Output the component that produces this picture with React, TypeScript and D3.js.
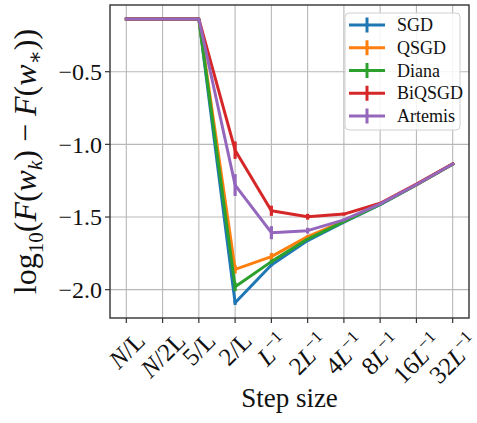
import React, { useEffect, useRef } from "react";
import * as d3 from "d3";

const categories = ["N/L", "N/2L", "5/L", "2/L", "L^{-1}", "2L^{-1}", "4L^{-1}", "8L^{-1}", "16L^{-1}", "32L^{-1}"];
const seriesNames = ["SGD", "QSGD", "Diana", "BiQSGD", "Artemis"];
const seriesColors = ["#1f77b4", "#ff7f0e", "#2ca02c", "#d62728", "#9467bd"];

const sgd = [-0.137, -0.137, -0.137, -2.09, -1.83, -1.662, -1.535, -1.415, -1.28, -1.137];
const qsgd = [-0.137, -0.137, -0.137, -1.86, -1.773, -1.635, -1.528, -1.41, -1.277, -1.135];
const diana = [-0.137, -0.137, -0.137, -1.98, -1.807, -1.652, -1.532, -1.413, -1.278, -1.136];
const biqsgd = [-0.137, -0.137, -0.137, -1.04, -1.457, -1.498, -1.48, -1.405, -1.274, -1.133];
const artemis = [-0.137, -0.137, -0.137, -1.28, -1.608, -1.594, -1.52, -1.41, -1.276, -1.135];

const sgdErr = [0, 0, 0, 0.015, 0.01, 0.005, 0.004, 0.003, 0.003, 0.003];
const qsgdErr = [0, 0, 0, 0.03, 0.025, 0.01, 0.005, 0.004, 0.003, 0.003];
const dianaErr = [0, 0, 0, 0.03, 0.012, 0.006, 0.004, 0.003, 0.003, 0.003];
const biqsgdErr = [0, 0, 0, 0.06, 0.035, 0.02, 0.01, 0.005, 0.004, 0.004];
const artemisErr = [0, 0, 0, 0.075, 0.045, 0.02, 0.01, 0.005, 0.004, 0.004];

const yTicks = [-2.0, -1.5, -1.0, -0.5];

const seriesValues = [sgd, qsgd, diana, biqsgd, artemis];
const seriesErrors = [sgdErr, qsgdErr, dianaErr, biqsgdErr, artemisErr];

const W = 477;
const H = 423;
const FONT = "'Liberation Serif', 'DejaVu Serif', serif";

export default function App() {
  const ref = useRef<SVGSVGElement>(null);

  useEffect(() => {
    const svg = d3.select(ref.current);
    svg.selectAll("*").remove();

    const left = 110, right = 469, top = 5, bottom = 318;
    const x = d3.scalePoint<string>().domain(categories).range([left, right]).padding(0.45);
    const y = d3.scaleLinear().domain([-2.195, -0.041]).range([bottom, top]);

    svg.append("rect").attr("width", W).attr("height", H).attr("fill", "white");

    // grid
    const grid = svg.append("g");
    categories.forEach((c) => {
      grid.append("line").attr("x1", x(c)!).attr("x2", x(c)!).attr("y1", top).attr("y2", bottom)
        .attr("stroke", "#b8b8b8").attr("stroke-width", 1.1);
    });
    yTicks.forEach((t) => {
      grid.append("line").attr("x1", left).attr("x2", right).attr("y1", y(t)).attr("y2", y(t))
        .attr("stroke", "#b8b8b8").attr("stroke-width", 1.1);
    });

    // series
    const line = d3.line<number>().x((_, i) => x(categories[i])!).y((d) => y(d));
    seriesValues.forEach((vals, si) => {
      const g = svg.append("g");
      g.append("path").attr("d", line(vals)!).attr("fill", "none")
        .attr("stroke", seriesColors[si]).attr("stroke-width", 3)
        .attr("stroke-linejoin", "round").attr("stroke-linecap", "square");
      vals.forEach((v, i) => {
        const e = seriesErrors[si][i];
        g.append("line").attr("x1", x(categories[i])!).attr("x2", x(categories[i])!)
          .attr("y1", y(v - e)).attr("y2", y(v + e))
          .attr("stroke", seriesColors[si]).attr("stroke-width", 3.2);
      });
    });

    // spines
    svg.append("rect").attr("x", left).attr("y", top).attr("width", right - left).attr("height", bottom - top)
      .attr("fill", "none").attr("stroke", "#333").attr("stroke-width", 1.4);

    // x ticks
    const xt = svg.append("g");
    categories.forEach((c) => {
      const px = x(c)!;
      xt.append("line").attr("x1", px).attr("x2", px).attr("y1", bottom).attr("y2", bottom + 5)
        .attr("stroke", "#333").attr("stroke-width", 1.2);
      const t = xt.append("text").attr("font-family", FONT).attr("font-size", 25).attr("fill", "#111");
      if (c.endsWith("L^{-1}")) {
        const pre = c.slice(0, c.length - 6);
        if (pre) t.append("tspan").text(pre);
        t.append("tspan").attr("font-style", "italic").text("L");
        t.append("tspan").attr("font-size", 17).attr("dy", -10).text("\u22121");
      } else if (c.startsWith("N")) {
        t.append("tspan").attr("font-style", "italic").text("N");
        t.append("tspan").text(c.slice(1));
      } else {
        t.text(c);
      }
      const bb = (t.node() as SVGTextElement).getBBox();
      const cx = bb.x + bb.width / 2;
      const cy = bb.y + bb.height / 2;
      const rh = (bb.width + bb.height) * Math.SQRT1_2;
      t.attr("transform", `translate(${px},${bottom + 9 + rh / 2}) rotate(-45) translate(${-cx},${-cy})`);
    });

    // y ticks
    yTicks.forEach((tv) => {
      const py = y(tv);
      svg.append("line").attr("x1", left - 5).attr("x2", left).attr("y1", py).attr("y2", py)
        .attr("stroke", "#333").attr("stroke-width", 1.2);
      svg.append("text").attr("x", left - 8).attr("y", py).attr("dy", "0.35em")
        .attr("text-anchor", "end").attr("font-family", FONT).attr("font-size", 24).attr("fill", "#111")
        .text(("\u2212" + Math.abs(tv).toFixed(1)));
    });

    // y label
    const yl = svg.append("text").attr("transform", `translate(36,${(top + bottom) / 2}) rotate(-90)`)
      .attr("text-anchor", "middle").attr("font-family", FONT).attr("font-size", 32).attr("fill", "#111");
    yl.append("tspan").text("log");
    yl.append("tspan").attr("font-size", 21).attr("dy", 7).text("10");
    yl.append("tspan").attr("dy", -7).text("(");
    yl.append("tspan").attr("font-style", "italic").text("F");
    yl.append("tspan").text("(");
    yl.append("tspan").attr("font-style", "italic").text("w");
    yl.append("tspan").attr("font-style", "italic").attr("font-size", 21).attr("dy", 6).text("k");
    yl.append("tspan").attr("dy", -6).text(") \u2212 ");
    yl.append("tspan").attr("font-style", "italic").text("F");
    yl.append("tspan").text("(");
    yl.append("tspan").attr("font-style", "italic").text("w");
    yl.append("tspan").attr("font-size", 21).attr("dy", 6).text("\u2217");
    yl.append("tspan").attr("dy", -6).text("))");

    // x label
    svg.append("text").attr("x", (left + right) / 2).attr("y", 407).attr("text-anchor", "middle")
      .attr("font-family", FONT).attr("font-size", 27).attr("fill", "#111").text("Step size");

    // legend
    const lg = svg.append("g");
    lg.append("rect").attr("x", 345).attr("y", 13).attr("width", 115).attr("height", 117).attr("rx", 4)
      .attr("fill", "white").attr("fill-opacity", 0.85).attr("stroke", "#d0d0d0").attr("stroke-width", 1);
    seriesNames.forEach((n, i) => {
      const cy = 25 + i * 22.75;
      lg.append("line").attr("x1", 349).attr("x2", 385).attr("y1", cy).attr("y2", cy)
        .attr("stroke", seriesColors[i]).attr("stroke-width", 3);
      lg.append("line").attr("x1", 367).attr("x2", 367).attr("y1", cy - 7.5).attr("y2", cy + 7.5)
        .attr("stroke", seriesColors[i]).attr("stroke-width", 3);
      lg.append("text").attr("x", 397).attr("y", cy + 6).attr("font-family", FONT).attr("font-size", 18)
        .attr("fill", "#111").text(n);
    });
  }, []);

  return <svg ref={ref} width={W} height={H} style={{ display: "block", position: "absolute", left: 0, top: 0 }} />;
}
